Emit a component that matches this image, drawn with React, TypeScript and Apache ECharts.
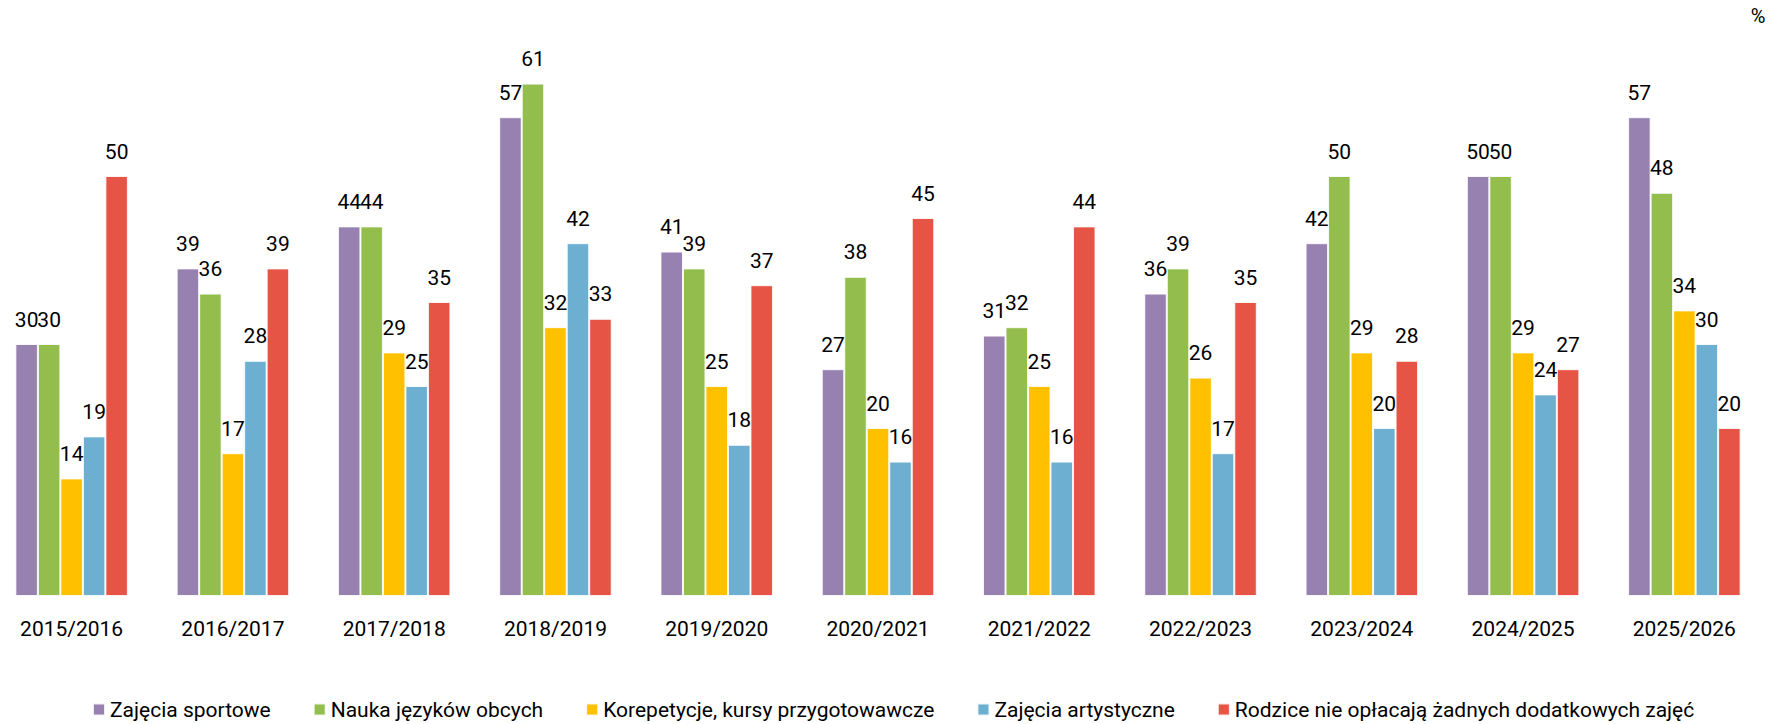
import React, { useEffect, useRef } from "react";
import * as echarts from "echarts";

const categories = [
  "2015/2016", "2016/2017", "2017/2018", "2018/2019", "2019/2020", "2020/2021",
  "2021/2022", "2022/2023", "2023/2024", "2024/2025", "2025/2026",
];
const sport = [30, 39, 44, 57, 41, 27, 31, 36, 42, 50, 57];
const languages = [30, 36, 44, 61, 39, 38, 32, 39, 50, 50, 48];
const tutoring = [14, 17, 29, 32, 25, 20, 25, 26, 29, 29, 34];
const arts = [19, 28, 25, 42, 18, 16, 16, 17, 20, 24, 30];
const none = [50, 39, 35, 33, 37, 45, 44, 35, 28, 27, 20];

const seriesNames = [
  "Zajęcia sportowe",
  "Nauka języków obcych",
  "Korepetycje, kursy przygotowawcze",
  "Zajęcia artystyczne",
  "Rodzice nie opłacają żadnych dodatkowych zajęć",
];
const colors = ["#9781B1", "#93BE4E", "#FFC000", "#6CAFD1", "#E65446"];
const FONT = "Roboto, 'Noto Sans', sans-serif";
const SHIFT = 9;

export default function App() {
  const ref = useRef<HTMLDivElement>(null);
  useEffect(() => {
    if (!ref.current) return;
    const chart = echarts.init(ref.current, undefined, { renderer: "svg" });
    const datasets = [sport, languages, tutoring, arts, none];
    chart.setOption({
      animation: false,
      textStyle: { fontFamily: FONT },
      color: colors,
      grid: { left: 0, right: 13, top: 8, bottom: 128, containLabel: false },
      legend: {
        left: 92 + SHIFT,
        top: 699,
        padding: 0,
        itemWidth: 12,
        itemHeight: 12,
        itemGap: 42,
        icon: "rect",
        textStyle: { fontSize: 21, color: "#000", fontFamily: FONT },
        data: seriesNames,
      },
      xAxis: {
        type: "category",
        data: categories,
        axisLine: { show: false },
        axisTick: { show: false },
        axisLabel: { fontSize: 21, color: "#000", margin: 22, fontFamily: FONT },
      },
      yAxis: { type: "value", min: 0, max: 70, show: false, splitLine: { show: false } },
      graphic: [
        {
          type: "text",
          x: 1758 + SHIFT,
          y: 16,
          style: {
            text: "%",
            fontSize: 20,
            fill: "#000",
            fontFamily: FONT,
            align: "center",
            verticalAlign: "middle",
          },
        },
      ],
      series: datasets.map((d, i) => ({
        name: seriesNames[i],
        type: "bar",
        data: d,
        barWidth: 22.5,
        barGap: "0%",
        itemStyle: { color: colors[i], borderColor: "rgba(255,255,255,0.85)", borderWidth: 1 },
        label: {
          show: true,
          position: "top",
          distance: 14,
          fontSize: 21,
          color: "#000",
          fontFamily: FONT,
        },
      })),
    });
    return () => chart.dispose();
  }, []);
  return (
    <div
      ref={ref}
      style={{
        position: "fixed",
        left: -SHIFT,
        top: 0,
        width: 1778 + SHIFT,
        height: 724,
        background: "#fff",
      }}
    />
  );
}
